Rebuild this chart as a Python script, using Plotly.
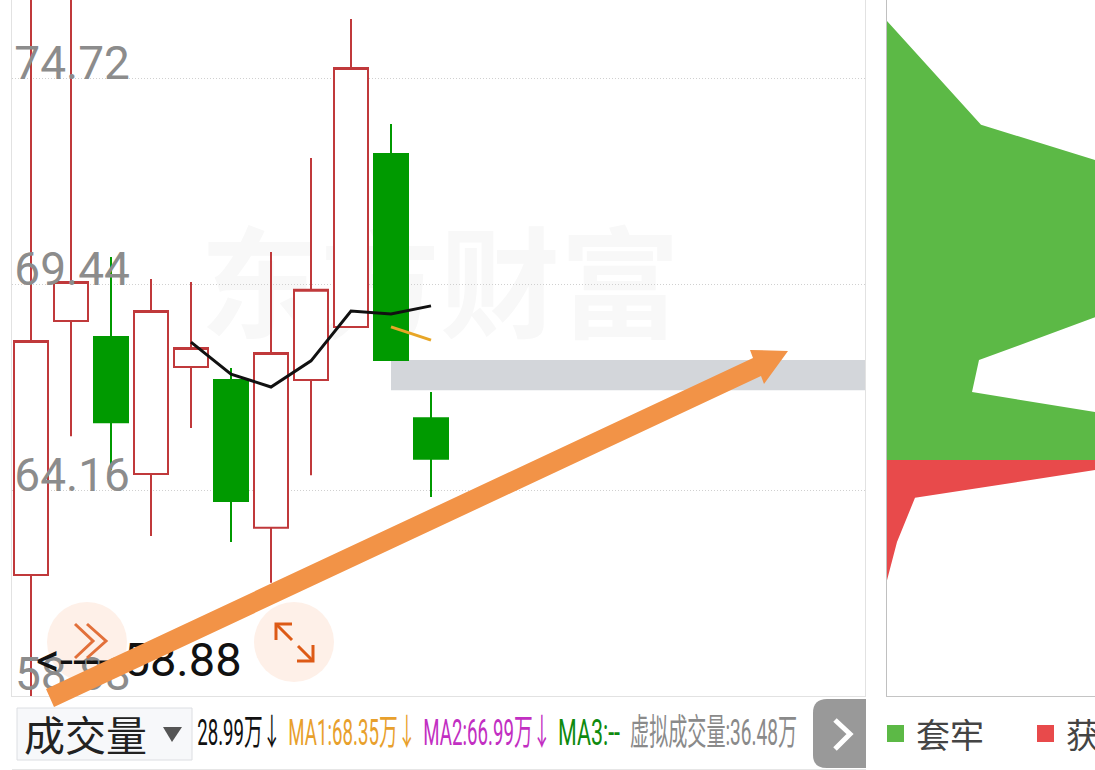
import plotly.graph_objects as go

W, H = 1095, 770

# candles
days = [0, 1, 2, 3, 4, 5, 6, 7, 8, 9, 10]
opens = [61.98, 68.49, 68.08, 64.57, 67.31, 66.98, 63.19, 66.98, 68.34, 72.77, 66.00]
closes = [67.98, 69.49, 65.90, 68.75, 67.80, 63.88, 67.67, 69.29, 74.98, 67.49, 64.96]
highs = [77.20, 77.20, 70.13, 69.57, 69.49, 67.29, 70.26, 72.67, 76.23, 73.54, 66.67]
lows = [58.88, 65.54, 64.67, 62.98, 65.75, 62.83, 61.78, 64.54, 68.34, 67.49, 63.98]

ma1_days = [4, 5, 6, 7, 8, 9, 10]
ma1_vals = [67.95, 67.13, 66.80, 67.47, 68.75, 68.67, 68.88]
ma2_days = [9, 10]
ma2_vals = [68.34, 68.00]

price_ticks = [64.16, 69.44, 74.72]
low_price = 58.88
gap_zone = [66.72, 67.49]

# chip distribution on the right
green_vals = [0, 94, 208, 235, 240, 232, 208, 92, 85, 208, 225, 225, 0]
green_price = [76.18, 73.52, 72.62, 71.5, 70.0, 69.0, 68.59, 67.49, 66.67, 66.16, 65.5, 64.93, 64.93]
red_vals = [0, 225, 208, 28, 10, 0, 0]
red_price = [64.93, 64.93, 64.67, 63.96, 62.83, 61.85, 61.7]

# text, left edge, width on the page, colour
volume_labels = [
    ("28.99万↓", 197, 84, "#111111"),
    ("MA1:68.35万↓", 288, 128, "#E8A02C"),
    ("MA2:66.99万↓", 423, 128, "#C22FC2"),
    ("MA3:--", 558, 62, "#0E8A0E"),
    ("虚拟成交量:36.48万", 630, 167, "#8A8A8A"),
]

# ui glyph outlines, pixels on the page
chevrons = [[(75, 624), (93, 641), (75, 658)], [(87, 624), (106, 641), (87, 658)]]
expand_icon = [
    [(292, 624), (276, 624), (276, 640)],
    [(277, 625), (292, 640)],
    [(297, 661), (313, 661), (313, 645)],
    [(298, 646), (313, 661)],
]
big_arrow = [(46, 689), (753, 358), (750, 350), (788, 351), (764, 384), (761, 376), (54, 707)]
dropdown_mark = [(163, 727), (182, 727), (172, 742)]
next_mark = [(835, 720), (850, 734), (835, 749)]

RED = "#C0393B"
GREEN = "#009A00"
CJK = "Noto Sans CJK SC"
LABEL_FONT = "Roboto, Noto Sans CJK SC"


def fx(x):
    return x / W


def fy(y):
    return 1 - y / H


def path(points, close=False):
    s = "M " + " L ".join(f"{fx(x):.5f},{fy(y):.5f}" for x, y in points)
    return s + " Z" if close else s


def glyph(points, color, width=3):
    return dict(type="path", xref="paper", yref="paper", path=path(points), line=dict(color=color, width=width))


def box(x0, y0, x1, y1, **kw):
    return dict(xref="paper", yref="paper", x0=fx(x0), x1=fx(x1), y0=fy(y1), y1=fy(y0), **kw)


fig = go.Figure()
fig.add_trace(go.Candlestick(
    x=days, open=opens, high=highs, low=lows, close=closes,
    increasing=dict(line=dict(color=RED, width=2), fillcolor="#FFFFFF"),
    decreasing=dict(line=dict(color=GREEN, width=2), fillcolor=GREEN),
    whiskerwidth=0, showlegend=False,
))
fig.add_trace(go.Scatter(x=ma1_days, y=ma1_vals, mode="lines", line=dict(color="#111111", width=3), showlegend=False))
fig.add_trace(go.Scatter(x=ma2_days, y=ma2_vals, mode="lines", line=dict(color="#E8A626", width=3), showlegend=False))
# plotly drops an inside tick label that would cross the axis end, so the lowest one is a text mark
fig.add_trace(go.Scatter(
    x=[-0.4], y=[59.34], mode="text", text=[f"{low_price:.2f}"], textposition="middle right",
    textfont=dict(size=46, color="#8C8C8C", family="Roboto"), showlegend=False,
))
fig.add_trace(go.Scatter(
    x=[0.125], y=[59.70], mode="text", text=[f"<---- {low_price:.2f}"], textposition="middle right",
    textfont=dict(size=47, color="#111111", family="Roboto"), showlegend=False,
))
fig.add_trace(go.Scatter(
    x=green_vals, y=green_price, xaxis="x2", yaxis="y2", mode="lines", fill="toself",
    fillcolor="#5CB946", line=dict(width=0), name="套牢", showlegend=False,
))
fig.add_trace(go.Scatter(
    x=red_vals, y=red_price, xaxis="x2", yaxis="y2", mode="lines", fill="toself",
    fillcolor="#E84A4B", line=dict(width=0), name="获利", showlegend=False,
))

shapes = [
    dict(type="rect", xref="x", yref="y", x0=9, x1=20.85, y0=gap_zone[0], y1=gap_zone[1],
         fillcolor="#D3D6DA", line=dict(width=0), layer="below"),
    box(200, 233, 680, 358, type="rect", fillcolor="rgba(0,0,0,0)", line=dict(width=0), layer="below",
        label=dict(text="东方财富", textposition="middle center",
                   font=dict(size=120, color="#F8F8F8", family=CJK, weight=700))),
    box(47, 602, 127, 682, type="circle", fillcolor="#FEF0E8", line=dict(width=0), layer="below"),
    box(254, 602, 334, 682, type="circle", fillcolor="#FEF0E8", line=dict(width=0), layer="below"),
    box(17, 708, 192, 760, type="rect", fillcolor="#F7F8FA", line=dict(color="#DCDEE2", width=1), layer="below"),
    dict(type="path", xref="paper", yref="paper", path=path(dropdown_mark, True), fillcolor="#555555", line=dict(width=0)),
    dict(type="path", xref="paper", yref="paper",
         path=f"M {fx(866)},{fy(699)} L {fx(827)},{fy(699)} Q {fx(813)},{fy(699)} {fx(813)},{fy(713)} "
              f"L {fx(813)},{fy(755)} Q {fx(813)},{fy(768)} {fx(827)},{fy(768)} L {fx(866)},{fy(768)} Z",
         fillcolor="#999999", line=dict(width=0)),
    glyph(next_mark, "#FFFFFF", 5),
    box(12, 769, 866, 770, type="rect", fillcolor="#E6E6E6", line=dict(width=0)),
    box(887, 725, 904, 742, type="rect", fillcolor="#5CB946", line=dict(width=0)),
    box(1037, 725, 1054, 742, type="rect", fillcolor="#E84A4B", line=dict(width=0)),
]
shapes += [glyph(p, "#E2703A", 3) for p in chevrons]
shapes += [glyph(p, "#DD5A16", 3) for p in expand_icon]
shapes.append(dict(type="path", xref="paper", yref="paper", path=path(big_arrow, True),
                   fillcolor="#F29347", line=dict(width=0)))

annotations = [
    dict(text="成交量", x=fx(22), xanchor="left", y=fy(733), font=dict(size=41, color="#222222", family=CJK)),
    dict(text="套牢", x=fx(914), xanchor="left", y=fy(733), font=dict(size=34, color="#444444", family=CJK)),
    dict(text="获利", x=fx(1064), xanchor="left", y=fy(733), font=dict(size=34, color="#444444", family=CJK)),
]
for label, left, width, color in volume_labels:
    annotations.append(dict(text=label, x=fx(left + width / 2), xanchor="center", y=fy(733),
                            font=dict(size=36, color=color, family=LABEL_FONT)))
for a in annotations:
    a.update(xref="paper", yref="paper", yanchor="middle", showarrow=False)

fig.update_layout(
    width=W, height=H, margin=dict(l=0, r=0, t=0, b=0), paper_bgcolor="#FFFFFF", plot_bgcolor="#FFFFFF",
    boxgap=0.15, boxgroupgap=0, showlegend=False, shapes=shapes, annotations=annotations,
    xaxis=dict(domain=[fx(12), fx(865)], range=[-0.475, 20.85], showgrid=False, zeroline=False, showticklabels=False,
               ticks="", showline=True, linecolor="#E2E2E2", linewidth=1, rangeslider=dict(visible=False), anchor="y"),
    yaxis=dict(domain=[fy(696), 1], range=[58.88, 76.72], tickvals=price_ticks, ticktext=[f"{v:.2f}" for v in price_ticks],
               ticklabelposition="inside top", ticklabelshift=17, ticklabelstandoff=8,
               tickfont=dict(size=46, color="#8C8C8C", family="Roboto"), ticks="",
               showgrid=True, gridcolor="#D0D0D0", griddash="1px 2px", gridwidth=1, zeroline=False,
               showline=True, mirror=True, linecolor="#E2E2E2", linewidth=1, anchor="x"),
    xaxis2=dict(domain=[fx(887), 1], range=[0, 208], showgrid=False, zeroline=False, showticklabels=False, ticks="",
                showline=True, linecolor="#C4C4C4", linewidth=1, anchor="y2"),
    yaxis2=dict(domain=[fy(696), 1], range=[58.88, 76.72], showgrid=False, zeroline=False, showticklabels=False, ticks="",
                showline=True, linecolor="#C0C0C0", linewidth=1, anchor="x2"),
)

# the toolbar labels are condensed in the original, squeeze the glyphs to their widths
widths = {label: width for label, _, width, _ in volume_labels}
post = """
document.body.style.margin = '0';
document.body.style.overflow = 'hidden';
function squeeze() {
  var widths = %s;
  document.querySelectorAll('text.annotation-text').forEach(function (t) {
    var w = widths[t.textContent];
    if (w) { t.setAttribute('textLength', w); t.setAttribute('lengthAdjust', 'spacingAndGlyphs'); }
  });
}
squeeze();
setTimeout(squeeze, 50);
""" % str(widths)

fig.write_html("out.html", config={"displayModeBar": False}, post_script=post)
